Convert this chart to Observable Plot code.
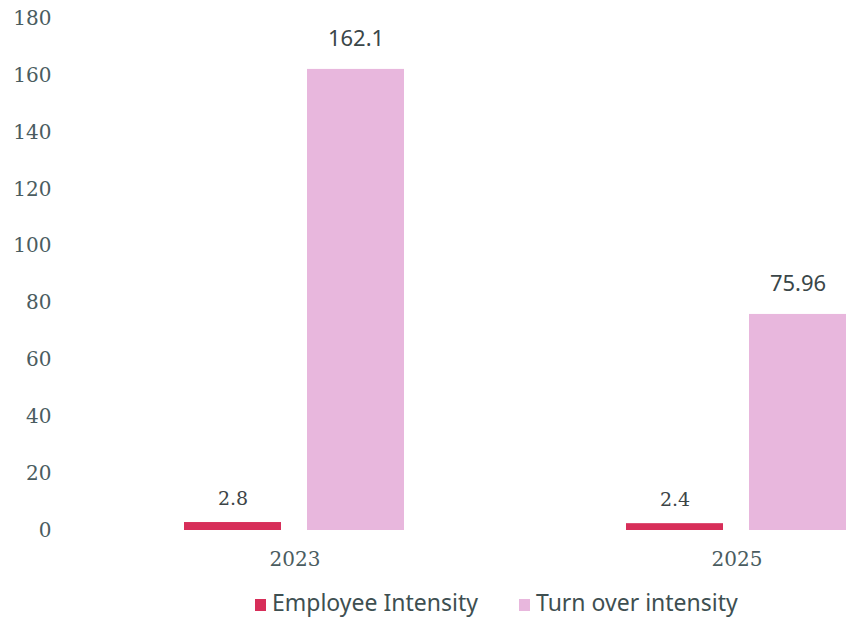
<!DOCTYPE html>
<html>
<head>
<meta charset="utf-8">
<script src="https://cdn.jsdelivr.net/npm/d3@7"></script>
<script src="https://cdn.jsdelivr.net/npm/@observablehq/plot@0.6"></script>
<style>
  html, body { margin: 0; padding: 0; background: #ffffff; }
  #wrap { width: 846px; height: 624px; overflow: hidden; position: relative; }
  #legend { position: relative; height: 44px; width: 846px; font-family: "Noto Sans", sans-serif; font-size: 23px; color: #3e4f51; }
  .item { position: absolute; top: 0; height: 44px; display: flex; align-items: center; white-space: nowrap; }
  .sw { width: 11px; height: 12px; margin-right: 6px; margin-top: 5px; }
</style>
</head>
<body>
<div id="wrap">
  <div id="chart"></div>
  <div id="legend"></div>
</div>
<script>
const years = ["2023", "2025"];
const seriesNames = ["Employee Intensity", "Turn over intensity"];
const employeeIntensity = [2.8, 2.4];
const turnoverIntensity = [162.1, 75.96];
const employeeLabels = ["2.8", "2.4"];
const turnoverLabels = ["162.1", "75.96"];
const yTicks = [0, 20, 40, 60, 80, 100, 120, 140, 160, 180];
const seriesColors = ["#d72e59", "#e8b7dd"];

const rows = [];
years.forEach((yr, i) => {
  rows.push({year: yr, series: seriesNames[0], value: employeeIntensity[i], label: employeeLabels[i]});
  rows.push({year: yr, series: seriesNames[1], value: turnoverIntensity[i], label: turnoverLabels[i]});
});

const chart = Plot.plot({
  width: 971,
  height: 580,
  marginTop: 18,
  marginBottom: 50,
  marginLeft: 60,
  marginRight: 0,
  style: {fontFamily: "DejaVu Serif, serif", fontSize: "20px", color: "#4a5c60", background: "transparent", maxWidth: "none", overflow: "visible"},
  fx: {domain: years, paddingInner: 0.3815, paddingOuter: 0.219, label: null, tickSize: 0, tickPadding: 21, axis: "bottom"},
  x: {domain: seriesNames, padding: 0.2097, axis: null},
  y: {domain: [0, 180], ticks: yTicks, tickSize: 0, tickPadding: 107, label: null},
  color: {domain: seriesNames, range: seriesColors},
  marks: [
    Plot.barY(rows, {fx: "year", x: "series", y: "value", fill: "series"}),
    Plot.text(rows.filter(d => d.series === seriesNames[0]), {
      fx: "year", x: "series", y: "value", text: "label", dy: -24,
      fill: "#3c4446", fontFamily: "DejaVu Serif, serif", fontSize: 19
    }),
    Plot.text(rows.filter(d => d.series === seriesNames[1]), {
      fx: "year", x: "series", y: "value", text: "label", dy: -30,
      fill: "#3a4648", fontFamily: "Noto Sans, sans-serif", fontSize: 22
    })
  ]
});
document.getElementById("chart").appendChild(chart);

const legend = document.getElementById("legend");
const lefts = [255, 519];
seriesNames.forEach((name, i) => {
  const it = document.createElement("div");
  it.className = "item";
  it.style.left = lefts[i] + "px";
  const sw = document.createElement("span");
  sw.className = "sw";
  sw.style.background = seriesColors[i];
  const tx = document.createElement("span");
  tx.textContent = name;
  it.appendChild(sw);
  it.appendChild(tx);
  legend.appendChild(it);
});
</script>
</body>
</html>
